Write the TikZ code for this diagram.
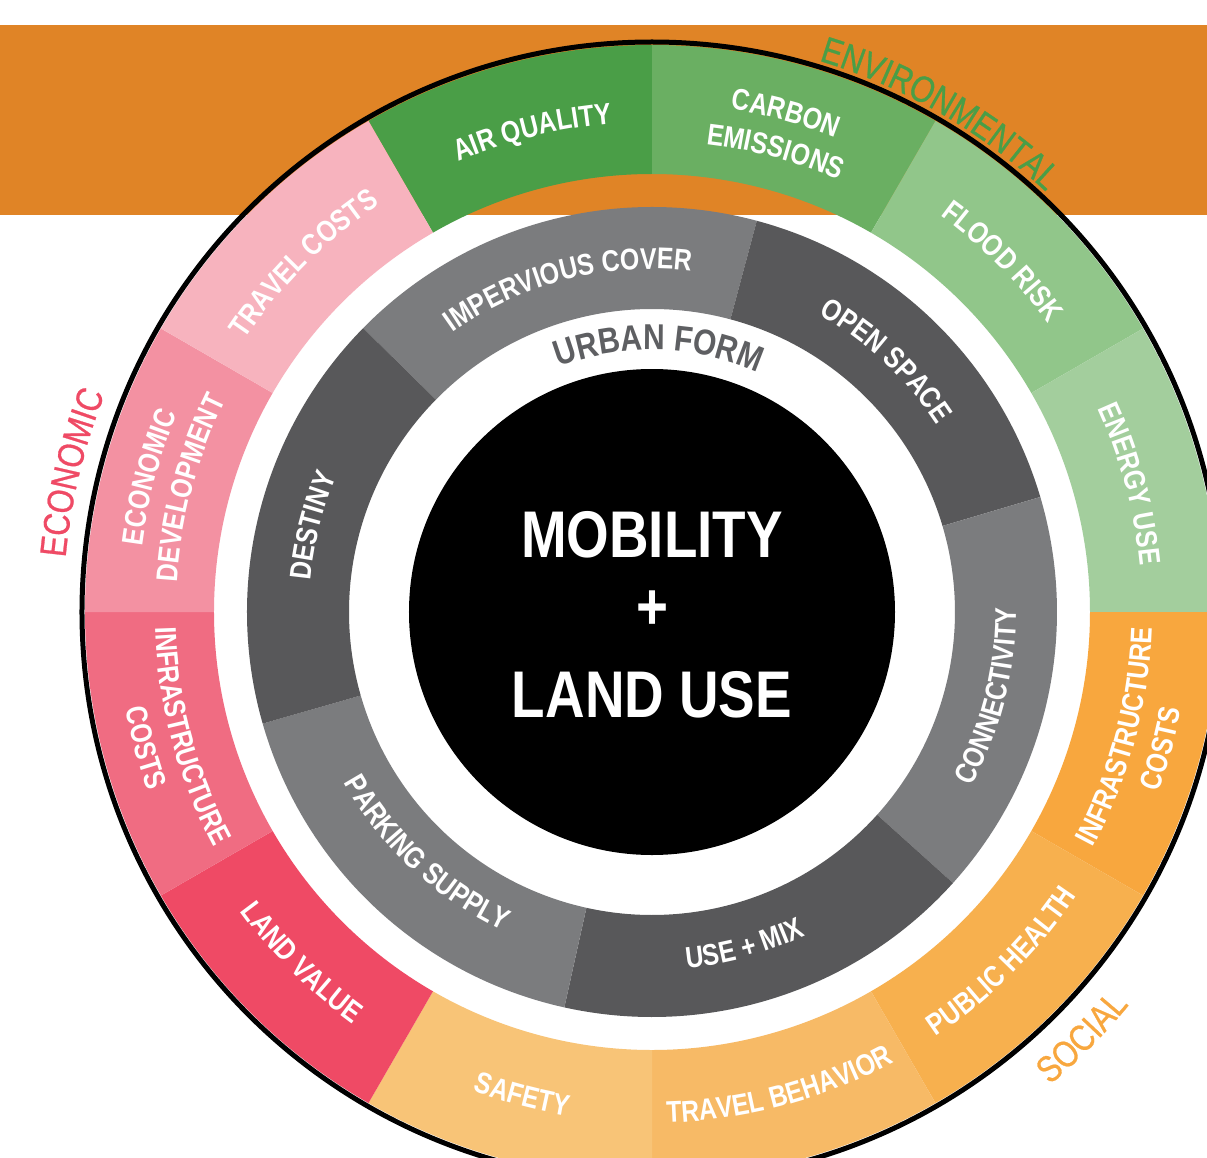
\documentclass[tikz,border=0pt]{standalone}
\usepackage{fontspec}
\newfontfamily\condf{Liberation Sans}[FakeStretch=0.83]
\newfontfamily\catff{Liberation Sans}[FakeStretch=0.83,FakeBold=0.7]
\usetikzlibrary{decorations.text}
\definecolor{bandorange}{RGB}{224,132,38}
\definecolor{cAir}{RGB}{74,158,71}
\definecolor{cCarbon}{RGB}{106,175,98}
\definecolor{cFlood}{RGB}{145,198,138}
\definecolor{cEnergy}{RGB}{163,206,157}
\definecolor{cInfraR}{RGB}{248,167,62}
\definecolor{cHealth}{RGB}{247,176,78}
\definecolor{cBehav}{RGB}{247,186,102}
\definecolor{cSafety}{RGB}{248,196,119}
\definecolor{cLandV}{RGB}{239,74,101}
\definecolor{cInfraL}{RGB}{240,108,130}
\definecolor{cEcon}{RGB}{243,145,162}
\definecolor{cTravC}{RGB}{247,179,190}
\definecolor{gLight}{RGB}{123,124,126}
\definecolor{gDark}{RGB}{88,88,90}
\definecolor{urbGrey}{RGB}{94,95,98}
\definecolor{envGreen}{RGB}{74,158,71}
\definecolor{ecoRed}{RGB}{239,74,101}
\definecolor{socOrange}{RGB}{248,167,62}

\newcommand{\ringsector}[5]{%
  \fill[#5] (#1:#4) arc[start angle=#1, end angle=#2, radius=#4] -- (#2:#3) arc[start angle=#2, end angle=#1, radius=#3] -- cycle;}
\newcommand{\toplabel}[5]{%
  \path[decorate,decoration={text along path,text align=center,text color=#4,text={|#3|#5}}]
    ({#1+40}:#2) arc[start angle={#1+40}, end angle={#1-40}, radius=#2];}
\newcommand{\botlabel}[5]{%
  \path[decorate,decoration={text along path,text align=center,text color=#4,text={|#3|#5}}]
    ({#1-40}:#2) arc[start angle={#1-40}, end angle={#1+40}, radius=#2];}
\newcommand{\wlabfont}{\condf\bfseries\fontsize{30}{30}\selectfont}
\newcommand{\catfont}{\catff\fontsize{37}{37}\selectfont}
\newcommand{\urbfont}{\condf\bfseries\fontsize{36}{36}\selectfont}

\begin{document}
\begin{tikzpicture}[x=1pt,y=1pt,
  centertext/.style={text=white,font=\condf\bfseries\fontsize{66}{66}\selectfont,inner sep=0pt}]
\useasboundingbox (-652,-545) rectangle (555,612);
\clip (-652,-545) rectangle (555,612);
\fill[white] (-652,-545) rectangle (555,612);
% orange band
\fill[bandorange] (-652,397) rectangle (555,587);

% outer ring
\def\ri{438}\def\ro{567}
\ringsector{90}{120}{\ri}{\ro}{cAir}
\ringsector{60}{90}{\ri}{\ro}{cCarbon}
\ringsector{30}{60}{\ri}{\ro}{cFlood}
\ringsector{0}{30}{\ri}{\ro}{cEnergy}
\ringsector{-30}{0}{\ri}{\ro}{cInfraR}
\ringsector{-60}{-30}{\ri}{\ro}{cHealth}
\ringsector{-90}{-60}{\ri}{\ro}{cBehav}
\ringsector{-120}{-90}{\ri}{\ro}{cSafety}
\ringsector{-150}{-120}{\ri}{\ro}{cLandV}
\ringsector{-180}{-150}{\ri}{\ro}{cInfraL}
\ringsector{150}{180}{\ri}{\ro}{cEcon}
\ringsector{120}{150}{\ri}{\ro}{cTravC}
\draw[black,line width=5] (0,0) circle[radius=570];

% grey ring
\def\gi{303}\def\go{405}
\ringsector{75}{135.5}{\gi}{\go}{gLight}
\ringsector{16.5}{75}{\gi}{\go}{gDark}
\ringsector{-42}{16.5}{\gi}{\go}{gLight}
\ringsector{-102.5}{-42}{\gi}{\go}{gDark}
\ringsector{-164}{-102.5}{\gi}{\go}{gLight}
\ringsector{135.5}{196}{\gi}{\go}{gDark}

% centre
\fill[black] (0,0) circle[radius=243];
\node[centertext,anchor=base] (mob) at (0,55) {MOBILITY};
\node[centertext] (plus) at (0,2) {+};
\node[centertext,anchor=base] (land) at (0,-105) {LAND USE};

% urban form
\toplabel{88.5}{262}{\urbfont}{urbGrey}{URBAN FORM}

% grey ring labels
\toplabel{104.5}{343}{\wlabfont}{white}{IMPERVIOUS COVER}
\toplabel{47}{341}{\wlabfont}{white}{OPEN SPACE}
\toplabel{165.75}{343}{\wlabfont}{white}{DESTINY}
\botlabel{-14}{364}{\wlabfont}{white}{CONNECTIVITY}
\botlabel{-74.5}{358}{\wlabfont}{white}{USE + MIX}
\botlabel{-133}{352}{\wlabfont}{white}{PARKING SUPPLY}

% outer ring labels
\toplabel{104}{490}{\wlabfont}{white}{AIR QUALITY}
\toplabel{75}{509}{\wlabfont}{white}{CARBON}
\toplabel{75}{471}{\wlabfont}{white}{EMISSIONS}
\toplabel{45}{490}{\wlabfont}{white}{FLOOD RISK}
\toplabel{15}{490}{\wlabfont}{white}{ENERGY USE}
\botlabel{-15}{500}{\wlabfont}{white}{INFRASTRUCTURE}
\botlabel{-15}{538}{\wlabfont}{white}{COSTS}
\botlabel{-45}{511}{\wlabfont}{white}{PUBLIC HEALTH}
\botlabel{-75}{511}{\wlabfont}{white}{TRAVEL BEHAVIOR}
\botlabel{-105}{511}{\wlabfont}{white}{SAFETY}
\botlabel{-135}{509}{\wlabfont}{white}{LAND VALUE}
\botlabel{-165}{497}{\wlabfont}{white}{INFRASTRUCTURE}
\botlabel{-165}{535}{\wlabfont}{white}{COSTS}
\toplabel{165}{514}{\wlabfont}{white}{ECONOMIC}
\toplabel{165}{476}{\wlabfont}{white}{DEVELOPMENT}
\toplabel{135}{490}{\wlabfont}{white}{TRAVEL COSTS}

% category labels
\toplabel{60}{576}{\catfont}{envGreen}{ENVIRONMENTAL}
\toplabel{166.5}{589}{\catfont}{ecoRed}{ECONOMIC}
\botlabel{-44.7}{618}{\catfont}{socOrange}{SOCIAL}
\end{tikzpicture}
\end{document}
